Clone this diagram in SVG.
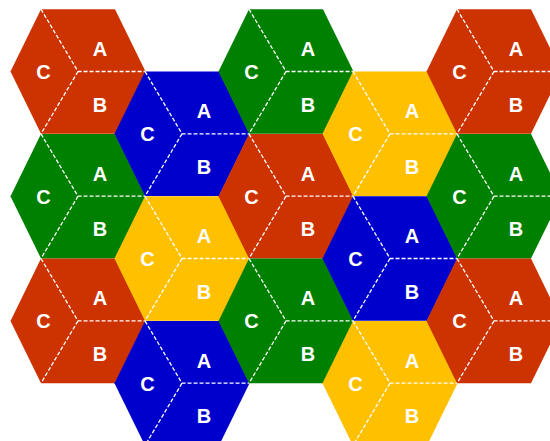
<svg xmlns="http://www.w3.org/2000/svg" xmlns:xlink="http://www.w3.org/1999/xlink" width="550" height="441" viewBox="0 0 550 441">
<style>
.red{fill:#CC3300}.green{fill:#008000}.blue{fill:#0000CC}.yellow{fill:#FFC000}
.d{fill:none;stroke:#FFFFFF;stroke-width:1.3;stroke-dasharray:4 2}
text{font-family:"Liberation Sans",Arial,sans-serif;font-weight:bold;font-size:20px;fill:#FFFFFF;text-anchor:middle}
</style>
<defs>
<polygon id="hex" points="-37,-62.3 37,-62.3 67.5,0 37,62.3 -37,62.3 -67.5,0"/>
<path id="div" class="d" d="M-37,-62.3 L0,0 L67.5,0 M0,0 L-37,62.3"/>
<g id="lbl">
<text x="22" y="-15.5">A</text>
<text x="22" y="40">B</text>
<text x="-34.5" y="7.5">C</text>
</g>
</defs>
<rect width="550" height="441" fill="#FFFFFF"/>
<g id="hex-1-1" transform="translate(78,71.5)"><use xlink:href="#hex" class="red"/><use xlink:href="#div"/><use xlink:href="#lbl"/></g>
<g id="hex-1-2" transform="translate(78,196.2)"><use xlink:href="#hex" class="green"/><use xlink:href="#div"/><use xlink:href="#lbl"/></g>
<g id="hex-1-3" transform="translate(78,320.9)"><use xlink:href="#hex" class="red"/><use xlink:href="#div"/><use xlink:href="#lbl"/></g>
<g id="hex-2-1" transform="translate(182,133.8)"><use xlink:href="#hex" class="blue"/><use xlink:href="#div"/><use xlink:href="#lbl"/></g>
<g id="hex-2-2" transform="translate(182,258.5)"><use xlink:href="#hex" class="yellow"/><use xlink:href="#div"/><use xlink:href="#lbl"/></g>
<g id="hex-2-3" transform="translate(182,383.2)"><use xlink:href="#hex" class="blue"/><use xlink:href="#div"/><use xlink:href="#lbl"/></g>
<g id="hex-3-1" transform="translate(286,71.5)"><use xlink:href="#hex" class="green"/><use xlink:href="#div"/><use xlink:href="#lbl"/></g>
<g id="hex-3-2" transform="translate(286,196.2)"><use xlink:href="#hex" class="red"/><use xlink:href="#div"/><use xlink:href="#lbl"/></g>
<g id="hex-3-3" transform="translate(286,320.9)"><use xlink:href="#hex" class="green"/><use xlink:href="#div"/><use xlink:href="#lbl"/></g>
<g id="hex-4-1" transform="translate(390,133.8)"><use xlink:href="#hex" class="yellow"/><use xlink:href="#div"/><use xlink:href="#lbl"/></g>
<g id="hex-4-2" transform="translate(390,258.5)"><use xlink:href="#hex" class="blue"/><use xlink:href="#div"/><use xlink:href="#lbl"/></g>
<g id="hex-4-3" transform="translate(390,383.2)"><use xlink:href="#hex" class="yellow"/><use xlink:href="#div"/><use xlink:href="#lbl"/></g>
<g id="hex-5-1" transform="translate(494,71.5)"><use xlink:href="#hex" class="red"/><use xlink:href="#div"/><use xlink:href="#lbl"/></g>
<g id="hex-5-2" transform="translate(494,196.2)"><use xlink:href="#hex" class="green"/><use xlink:href="#div"/><use xlink:href="#lbl"/></g>
<g id="hex-5-3" transform="translate(494,320.9)"><use xlink:href="#hex" class="red"/><use xlink:href="#div"/><use xlink:href="#lbl"/></g>
<g id="connectors"></g>
</svg>
